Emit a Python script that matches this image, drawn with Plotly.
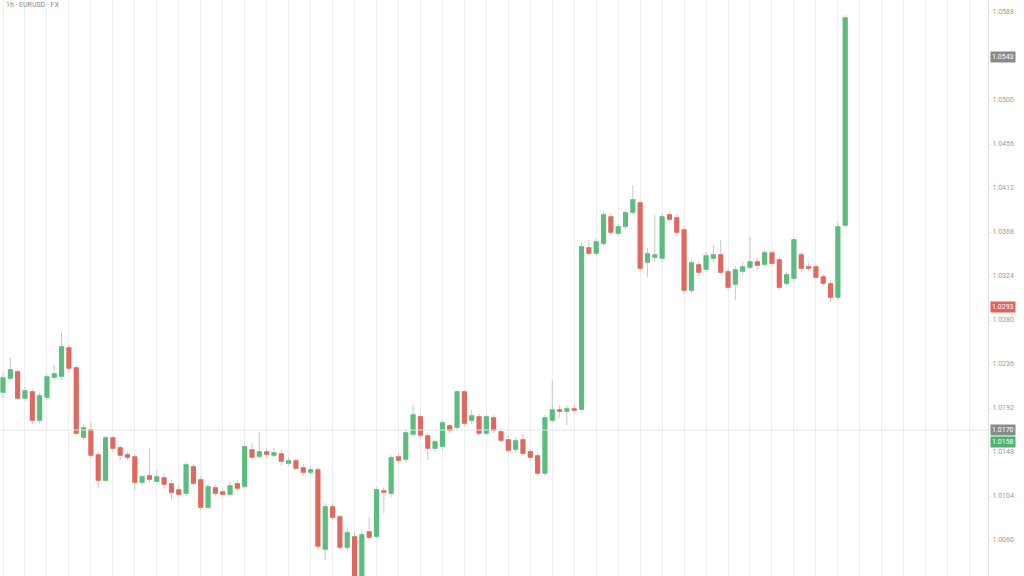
import plotly.graph_objects as go

# OHLC values (price), one entry per candle
open_ = [1.0208,1.0222,1.0228,1.0202,1.0208,1.0180,1.0203,1.0223,1.0224,1.0252,
         1.0232,1.0163,1.0170,1.0145,1.0120,1.0162,1.0152,1.0145,1.0143,1.0118,
         1.0124,1.0119,1.0122,1.0116,1.0110,1.0107,1.0133,1.0120,1.0093,1.0112,
         1.0108,1.0106,1.0116,1.0114,1.0150,1.0144,1.0148,1.0145,1.0146,1.0137,
         1.0139,1.0132,1.0128,1.0130,1.0051,1.0093,1.0083,1.0053,1.0063,1.0024,
         1.0068,1.0064,1.0109,1.0107,1.0143,1.0141,1.0166,1.0183,1.0164,1.0152,
         1.0154,1.0174,1.0173,1.0208,1.0180,1.0183,1.0167,1.0182,1.0168,1.0160,
         1.0151,1.0160,1.0148,1.0144,1.0127,1.0180,1.0190,1.0189,1.0191,1.0191,
         1.0352,1.0347,1.0357,1.0383,1.0367,1.0374,1.0388,1.0397,1.0338,1.0343,
         1.0342,1.0385,1.0382,1.0370,1.0310,1.0335,1.0331,1.0342,1.0345,1.0328,
         1.0316,1.0329,1.0333,1.0338,1.0336,1.0347,1.0340,1.0317,1.0322,1.0345,
         1.0333,1.0333,1.0323,1.0316,1.0303,1.0375]
high = [1.0228,1.0242,1.0230,1.0213,1.0211,1.0207,1.0226,1.0235,1.0268,1.0255,
        1.0235,1.0175,1.0178,1.0148,1.0164,1.0164,1.0155,1.0148,1.0145,1.0125,
        1.0152,1.0130,1.0126,1.0120,1.0114,1.0138,1.0136,1.0124,1.0116,1.0115,
        1.0111,1.0118,1.0120,1.0156,1.0157,1.0168,1.0152,1.0152,1.0150,1.0143,
        1.0142,1.0136,1.0134,1.0133,1.0097,1.0097,1.0085,1.0072,1.0068,1.0070,
        1.0083,1.0113,1.0112,1.0145,1.0146,1.0170,1.0195,1.0186,1.0166,1.0160,
        1.0180,1.0176,1.0210,1.0210,1.0190,1.0186,1.0186,1.0185,1.0172,1.0164,
        1.0163,1.0166,1.0151,1.0148,1.0185,1.0220,1.0195,1.0195,1.0195,1.0357,
        1.0360,1.0362,1.0388,1.0386,1.0376,1.0390,1.0415,1.0400,1.0352,1.0385,
        1.0386,1.0388,1.0386,1.0374,1.0340,1.0338,1.0348,1.0355,1.0360,1.0332,
        1.0334,1.0338,1.0363,1.0342,1.0350,1.0350,1.0343,1.0328,1.0363,1.0348,
        1.0337,1.0336,1.0326,1.0319,1.0378,1.0585]
low = [1.0202,1.0219,1.0200,1.0199,1.0176,1.0177,1.0200,1.0220,1.0220,1.0228,
       1.0164,1.0160,1.0142,1.0112,1.0118,1.0148,1.0140,1.0140,1.0110,1.0115,
       1.0118,1.0116,1.0112,1.0100,1.0103,1.0104,1.0114,1.0090,1.0090,1.0104,
       1.0103,1.0103,1.0109,1.0111,1.0140,1.0142,1.0142,1.0143,1.0134,1.0134,
       1.0129,1.0124,1.0125,1.0050,1.0040,1.0080,1.0050,1.0050,1.0018,1.0020,
       1.0060,1.0061,1.0087,1.0103,1.0137,1.0138,1.0163,1.0162,1.0140,1.0148,
       1.0150,1.0167,1.0170,1.0174,1.0176,1.0164,1.0164,1.0167,1.0157,1.0147,
       1.0148,1.0144,1.0140,1.0124,1.0124,1.0177,1.0182,1.0175,1.0186,1.0188,
       1.0344,1.0344,1.0354,1.0365,1.0364,1.0371,1.0385,1.0328,1.0323,1.0338,
       1.0338,1.0378,1.0364,1.0306,1.0307,1.0324,1.0328,1.0338,1.0325,1.0310,
       1.0300,1.0325,1.0330,1.0330,1.0334,1.0334,1.0310,1.0314,1.0319,1.0328,
       1.0329,1.0320,1.0314,1.0298,1.0300,1.0372]
close = [1.0222,1.0230,1.0202,1.0209,1.0180,1.0204,1.0223,1.0226,1.0253,1.0232,
         1.0167,1.0172,1.0145,1.0120,1.0162,1.0152,1.0145,1.0143,1.0118,1.0123,
         1.0121,1.0123,1.0116,1.0108,1.0106,1.0135,1.0117,1.0093,1.0113,1.0107,
         1.0106,1.0114,1.0112,1.0153,1.0143,1.0148,1.0146,1.0147,1.0139,1.0139,
         1.0132,1.0128,1.0130,1.0054,1.0093,1.0083,1.0053,1.0067,1.0024,1.0065,
         1.0063,1.0110,1.0108,1.0142,1.0140,1.0167,1.0185,1.0165,1.0152,1.0158,
         1.0177,1.0170,1.0208,1.0177,1.0184,1.0167,1.0183,1.0170,1.0160,1.0150,
         1.0159,1.0147,1.0143,1.0127,1.0182,1.0190,1.0189,1.0191,1.0190,1.0353,
         1.0347,1.0358,1.0385,1.0368,1.0373,1.0387,1.0400,1.0332,1.0346,1.0345,
         1.0383,1.0381,1.0368,1.0310,1.0337,1.0328,1.0344,1.0345,1.0328,1.0313,
         1.0330,1.0333,1.0338,1.0335,1.0347,1.0337,1.0313,1.0325,1.0360,1.0332,
         1.0332,1.0323,1.0317,1.0303,1.0373,1.0582]

# right-axis price badges
badge_prices = [1.0543, 1.0293, 1.0170, 1.0158]
badge_colors = ["#8a8a8a", "#e0625a", "#8a8a8a", "#4cb070"]
ref_line_price = 1.0170

x = list(range(len(open_)))
body_hi = [max(o, c) for o, c in zip(open_, close)]
body_lo = [min(o, c) for o, c in zip(open_, close)]

GREEN = "#5bbd7e"
RED = "#e0695f"

fig = go.Figure()
# wicks
fig.add_trace(go.Candlestick(
    x=x, open=open_, high=high, low=low, close=close,
    increasing=dict(line=dict(color="#c8c8c8", width=1), fillcolor="#c8c8c8"),
    decreasing=dict(line=dict(color="#c8c8c8", width=1), fillcolor="#c8c8c8"),
    whiskerwidth=0, showlegend=False, hoverinfo="skip"))
# bodies
fig.add_trace(go.Candlestick(
    x=x, open=open_, high=body_hi, low=body_lo, close=close,
    increasing=dict(line=dict(color=GREEN, width=1.5), fillcolor=GREEN),
    decreasing=dict(line=dict(color=RED, width=1.5), fillcolor=RED),
    whiskerwidth=0, showlegend=False))

fig.add_hline(y=ref_line_price, line=dict(color="#e6e6e6", width=1))

for p, col in zip(badge_prices, badge_colors):
    fig.add_annotation(x=1.0, xref="paper", y=p, yref="y", xanchor="left",
                       text=f"{p:.4f}", showarrow=False,
                       font=dict(size=7, color="white", family="Roboto"),
                       bgcolor=col, borderpad=1, xshift=2)

fig.add_annotation(x=0.004, xref="paper", y=1.0, yref="paper", yanchor="top",
                   xanchor="left", showarrow=False, yshift=1,
                   text="1h · EURUSD · FX", font=dict(size=7, color="#888"))

fig.update_layout(
    width=1024, height=576,
    margin=dict(l=0, r=36, t=0, b=0, autoexpand=False),
    paper_bgcolor="white", plot_bgcolor="white",
    xaxis=dict(range=[-0.41, 134.5], rangeslider=dict(visible=False),
               showticklabels=False, showgrid=True, gridcolor="#efefef",
               tick0=0, dtick=3, zeroline=False, showline=False,
               automargin=False),
    yaxis=dict(side="right", range=[1.0024, 1.0600], showgrid=False,
               tick0=1.0500, dtick=0.0044, tickformat=".4f",
               tickfont=dict(size=7, color="#9a9a9a", family="Roboto"),
               showline=True, linecolor="#e3e3e3", zeroline=False,
               ticks="outside", ticklen=2, tickcolor="#e3e3e3",
               automargin=False),
    font=dict(family="Roboto"),
)

fig.write_html("out.html", config={"displayModeBar": False},
               post_script="document.body.style.margin='0';"
                           "document.body.style.overflow='hidden';")
